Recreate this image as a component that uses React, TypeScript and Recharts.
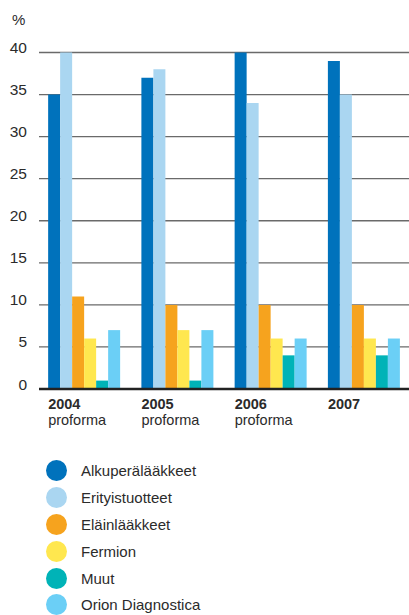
import React from 'react';
import { BarChart, Bar, XAxis, YAxis, CartesianGrid, Legend } from 'recharts';

const years = ['2004', '2005', '2006', '2007'];
const yearNotes = ['proforma', 'proforma', 'proforma', ''];
const seriesNames = ['Alkuperälääkkeet', 'Erityistuotteet', 'Eläinlääkkeet', 'Fermion', 'Muut', 'Orion Diagnostica'];
const seriesColors = ['#0072BC', '#AAD6F1', '#F6A31E', '#FFE74F', '#00B3B7', '#6BCFF6'];
const alkuperalaakkeet = [35, 37, 40, 39];
const erityistuotteet = [40, 38, 34, 35];
const elainlaakkeet = [11, 10, 10, 10];
const fermion = [6, 7, 6, 6];
const muut = [1, 1, 4, 4];
const orionDiagnostica = [7, 7, 6, 6];
const yTicks = [0, 5, 10, 15, 20, 25, 30, 35, 40];
const unitLabel = '%';

const seriesValues = [alkuperalaakkeet, erityistuotteet, elainlaakkeet, fermion, muut, orionDiagnostica];

const data = years.map((year, i) => {
  const row: Record<string, string | number> = { year, note: yearNotes[i] };
  seriesValues.forEach((vals, s) => {
    row['s' + s] = vals[i];
  });
  return row;
});

const FONT = '"Liberation Sans", Arial, Helvetica, sans-serif';
const TEXT = '#2b2b2b';

const YTick = (props: any) => {
  const { y, payload } = props;
  return (
    <text x={27} y={y + 0.5} textAnchor="end" fontFamily={FONT} fontSize={15.5} fill={TEXT}>
      {payload.value}
    </text>
  );
};

const XTick = (props: any) => {
  const { x, y, payload, index } = props;
  const left = x - 37.5;
  return (
    <g>
      <text x={left} y={y + 19.5} textAnchor="start" fontFamily={FONT} fontSize={14.5} fontWeight="bold" fill={TEXT}>
        {payload.value}
      </text>
      {yearNotes[index] ? (
        <text x={left} y={y + 35.5} textAnchor="start" fontFamily={FONT} fontSize={14.5} fill={TEXT}>
          {yearNotes[index]}
        </text>
      ) : null}
    </g>
  );
};

const PercentLabel = () => (
  <text x={12} y={25} fontFamily={FONT} fontSize={15} fill={TEXT}>
    {unitLabel}
  </text>
);

const LegendContent = () => (
  <div style={{ width: 300, height: 160, paddingTop: 2.6, boxSizing: 'border-box', fontFamily: FONT }}>
    {seriesNames.map((name, i) => (
      <div key={name} style={{ height: 26.8, display: 'flex', alignItems: 'center' }}>
        <svg width={21} height={21} style={{ marginLeft: 46, flex: 'none' }}>
          <circle cx={10.5} cy={10.5} r={10.5} fill={seriesColors[i]} />
        </svg>
        <span style={{ marginLeft: 14, fontSize: 15, color: TEXT, whiteSpace: 'nowrap' }}>{name}</span>
      </div>
    ))}
  </div>
);

export default function App() {
  return (
    <div style={{ position: 'absolute', left: 0, top: 0, width: 409, height: 615, overflow: 'hidden', background: '#fff' }}>
      <BarChart
        width={412}
        height={615}
        data={data}
        margin={{ top: 52.5, right: 0, bottom: 0, left: 0 }}
        barCategoryGap="9.8%"
        barGap={0}
      >
        <CartesianGrid horizontal vertical={false} stroke="#6a6a6a" strokeWidth={1.3} />
        <XAxis
          dataKey="year"
          axisLine={{ stroke: '#222', strokeWidth: 2.4 }}
          tickLine={false}
          tickSize={0}
          tickMargin={0}
          height={66}
          interval={0}
          tick={<XTick />}
        />
        <YAxis
          domain={[0, 40]}
          ticks={yTicks}
          width={39}
          axisLine={false}
          tickLine={false}
          tick={<YTick />}
          label={{ content: <PercentLabel /> }}
        />
        <Legend
          layout="horizontal"
          align="left"
          verticalAlign="bottom"
          wrapperStyle={{ left: 0, bottom: 0, width: 300, height: 160 }}
          content={<LegendContent />}
        />
        {seriesNames.map((name, i) => (
          <Bar key={name} dataKey={'s' + i} name={name} fill={seriesColors[i]} isAnimationActive={false} />
        ))}
      </BarChart>
    </div>
  );
}
